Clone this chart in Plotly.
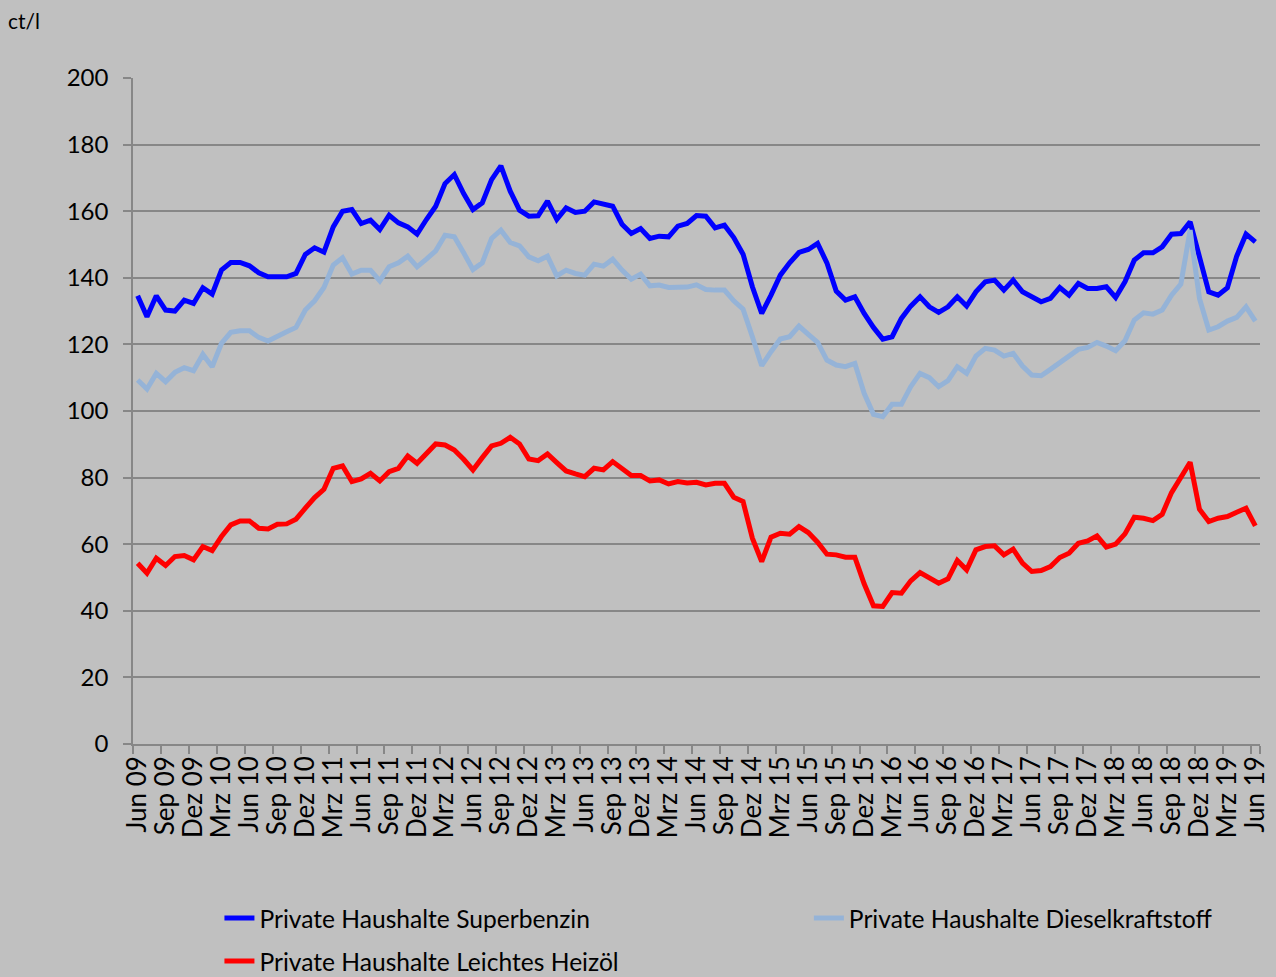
import plotly.graph_objects as go

month_names = ["Jan", "Feb", "Mrz", "Apr", "Mai", "Jun", "Jul", "Aug", "Sep", "Okt", "Nov", "Dez"]
months = []
for y in range(9, 20):
    for m in range(12):
        if (y == 9 and m < 5) or (y == 19 and m > 5):
            continue
        months.append(f"{month_names[m]} {y:02d}")

tick_labels = months[::3]

superbenzin = [
    134.6, 128.3, 134.6, 130.3, 130.0, 133.3, 132.3, 137.0, 135.1, 142.3,
    144.6, 144.6, 143.6, 141.5, 140.3, 140.4, 140.3, 141.3, 147.0, 149.0,
    147.7, 155.3, 160.0, 160.5, 156.3, 157.3, 154.5, 158.8, 156.5, 155.3,
    153.1, 157.5, 161.5, 168.3, 171.0, 165.3, 160.5, 162.5, 169.5, 173.6,
    166.0, 160.3, 158.5, 158.6, 163.0, 157.5, 161.0, 159.6, 160.0, 162.8,
    162.3, 161.5, 156.1, 153.3, 154.8, 151.8, 152.5, 152.3, 155.5, 156.3,
    158.7, 158.5, 155.0, 155.8, 152.1, 147.1, 137.3, 129.3, 134.8, 140.8,
    144.5, 147.6, 148.5, 150.3, 144.5, 136.0, 133.3, 134.3, 129.3, 125.1,
    121.6, 122.3, 127.8, 131.5, 134.3, 131.3, 129.6, 131.3, 134.3, 131.5,
    135.8, 138.8, 139.3, 136.3, 139.3, 135.8, 134.3, 132.8, 133.8, 137.1,
    134.8, 138.3, 136.8, 136.8, 137.3, 134.1, 138.8, 145.3, 147.5, 147.5,
    149.3, 153.1, 153.3, 156.8, 146.3, 135.8, 134.8, 137.0, 146.5, 153.1,
    150.8,
]

diesel = [
    109.3, 106.6, 111.3, 108.8, 111.6, 113.0, 112.1, 117.0, 113.3, 120.3,
    123.6, 124.1, 124.1, 122.1, 121.0, 122.6, 123.8, 125.1, 130.3, 133.1,
    137.1, 143.8, 146.0, 141.1, 142.3, 142.3, 139.1, 143.3, 144.5, 146.5,
    143.3, 145.6, 148.1, 152.8, 152.3, 147.5, 142.5, 144.5, 151.8, 154.3,
    150.6, 149.6, 146.3, 145.1, 146.5, 140.6, 142.3, 141.3, 140.8, 144.1,
    143.5, 145.6, 142.3, 139.6, 141.1, 137.6, 137.8, 137.1, 137.3, 137.2,
    137.9, 136.5, 136.3, 136.3, 133.1, 130.6, 122.3, 113.6, 117.8, 121.6,
    122.3, 125.5, 123.0, 120.6, 115.3, 113.8, 113.3, 114.3, 105.3, 99.0,
    98.3, 102.0, 102.0, 107.3, 111.3, 110.0, 107.3, 109.1, 113.3, 111.3,
    116.5, 118.8, 118.3, 116.5, 117.3, 113.5, 110.8, 110.6, 112.5, 114.5,
    116.3, 118.5, 119.1, 120.6, 119.5, 118.1, 121.1, 127.3, 129.5, 129.1,
    130.3, 134.8, 138.1, 154.3, 133.8, 124.3, 125.3, 127.0, 128.1, 131.3,
    127.0,
]

heizoel = [
    54.3, 51.3, 55.8, 53.6, 56.3, 56.6, 55.3, 59.3, 58.1, 62.3,
    65.8, 67.0, 67.0, 64.8, 64.6, 66.0, 66.1, 67.5, 70.8, 74.0,
    76.5, 82.8, 83.5, 78.8, 79.6, 81.3, 79.0, 81.8, 82.8, 86.5,
    84.3, 87.3, 90.1, 89.8, 88.3, 85.5, 82.3, 86.0, 89.5, 90.3,
    92.1, 90.1, 85.6, 85.1, 87.1, 84.5, 82.0, 81.1, 80.3, 82.8,
    82.3, 84.8, 82.6, 80.6, 80.6, 79.0, 79.3, 78.1, 78.8, 78.4,
    78.6, 77.8, 78.3, 78.3, 74.1, 72.8, 61.8, 54.8, 62.1, 63.3,
    63.0, 65.3, 63.5, 60.6, 57.0, 56.8, 56.1, 56.1, 48.1, 41.5,
    41.3, 45.5, 45.3, 49.0, 51.5, 49.8, 48.3, 49.6, 55.1, 52.3,
    58.3, 59.3, 59.5, 56.8, 58.5, 54.3, 51.8, 52.1, 53.3, 56.0,
    57.3, 60.3, 61.0, 62.5, 59.1, 60.0, 63.1, 68.1, 67.8, 67.1,
    69.0, 75.5, 80.3, 84.6, 70.5, 66.8, 67.8, 68.3, 69.6, 70.8,
    65.5,
]

series_names = [
    "Private Haushalte Superbenzin",
    "Private Haushalte Dieselkraftstoff",
    "Private Haushalte Leichtes Heizöl",
]
colors = ["#0000FF", "#95B3D7", "#FF0000"]

FONT = "Lato, 'Open Sans', sans-serif"
BG = "#C0C0C0"
GRID = "#878787"

fig = go.Figure()
for vals, name, col, lg in zip([superbenzin, diesel, heizoel], series_names, colors,
                               ["legend", "legend2", "legend3"]):
    fig.add_trace(go.Scatter(
        x=months, y=vals, mode="lines", name=name,
        line=dict(color=col, width=5),
        legend=lg, showlegend=True,
    ))

leg_common = dict(orientation="h", xanchor="left", yanchor="middle", visible=True,
                  bgcolor="rgba(0,0,0,0)", font=dict(family=FONT, size=24.6, color="black"))

fig.update_layout(
    width=1276, height=977,
    showlegend=True,
    paper_bgcolor=BG, plot_bgcolor=BG,
    margin=dict(l=133, r=16, t=78, b=233, autoexpand=False),
    font=dict(family=FONT, size=24, color="black"),
    legend=dict(x=0.0767, y=-0.2613, **leg_common),
    legend2=dict(x=0.5997, y=-0.2613, **leg_common),
    legend3=dict(x=0.0767, y=-0.3258, **leg_common),
    xaxis=dict(
        type="category", categoryorder="array", categoryarray=months,
        range=[-0.5, len(months) - 0.5],
        tickmode="array", tickvals=tick_labels, ticktext=tick_labels,
        tickson="boundaries", tickangle=-90,
        ticks="outside", ticklen=8, tickcolor=GRID, tickwidth=1.5,
        showline=True, linecolor=GRID, linewidth=1.5,
        showgrid=False, zeroline=False,
        tickfont=dict(family=FONT, size=26, color="black"),
    ),
    yaxis=dict(
        range=[0, 200], tickmode="linear", tick0=0, dtick=20,
        ticks="outside", ticklen=8, tickcolor=GRID, tickwidth=1.5,
        showline=True, linecolor=GRID, linewidth=1.5,
        showgrid=True, gridcolor=GRID, gridwidth=1.5,
        zeroline=False, ticklabelstandoff=10,
        tickfont=dict(family=FONT, size=24, color="black"),
    ),
    annotations=[dict(
        text="ct/l", xref="paper", yref="paper", x=-133 / 1127, y=(744 - 20) / 666,
        xanchor="left", yanchor="middle", showarrow=False, xshift=6,
        font=dict(family=FONT, size=21, color="black"),
    )],
)

fig.write_html(
    "out.html",
    config={"displayModeBar": False},
    post_script="document.body.style.margin='0';document.body.style.overflow='hidden';",
)
